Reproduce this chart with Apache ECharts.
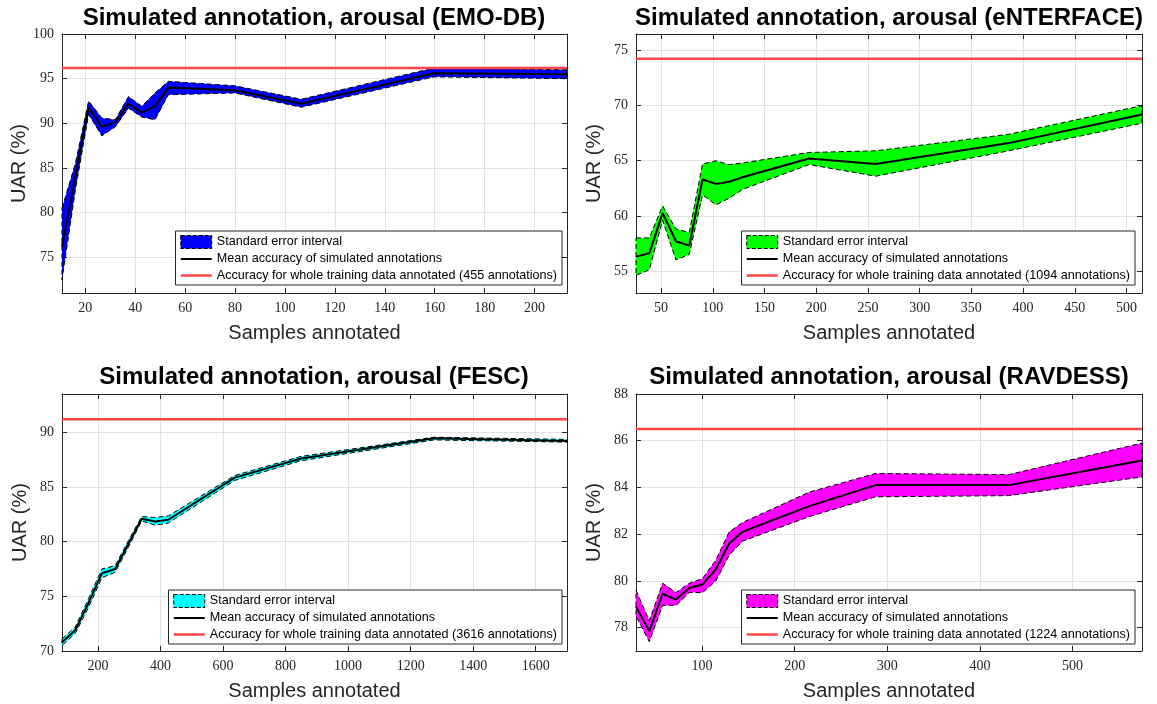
<!DOCTYPE html>
<html>
<head>
<meta charset="utf-8">
<script src="https://cdn.jsdelivr.net/npm/echarts@6/dist/echarts.min.js"></script>
<style>
html, body { margin: 0; background: #fff; }
#main { width: 1157px; height: 704px; }
</style>
</head>
<body>
<div id="main"></div>
<script>
// samples annotated (x) and UAR values
var emoX     = [10.65, 16, 21.3, 26.6, 32, 37.3, 42.6, 47.9, 53.3, 79.9, 106.5, 159.75, 213];
var emoMean  = [76.2, 84.0, 91.8, 89.6, 90.1, 92.2, 91.2, 91.9, 94.0, 93.7, 92.2, 95.6, 95.5];
var emoUpper = [80.5, 85.5, 92.5, 90.6, 90.4, 93.0, 91.9, 93.4, 94.7, 94.2, 92.7, 96.2, 96.0];
var emoLower = [72.5, 82.5, 91.0, 88.6, 89.6, 91.7, 90.7, 90.4, 93.2, 93.4, 91.8, 95.2, 95.0];
var emoRef = 96.2;

var entX     = [25.75, 38.6, 51.5, 64.4, 77.25, 90.1, 103, 115.9, 128.75, 193.1, 257.5, 386.25, 515];
var entMean  = [56.3, 56.6, 60.25, 57.7, 57.3, 63.3, 62.9, 63.1, 63.5, 65.2, 64.7, 66.6, 69.2];
var entUpper = [58.0, 58.0, 60.9, 58.8, 58.5, 64.7, 65.0, 64.65, 64.8, 65.75, 65.9, 67.4, 70.0];
var entLower = [54.6, 55.1, 59.6, 56.0, 56.5, 61.9, 61.0, 61.6, 62.4, 64.65, 63.6, 65.9, 68.4];
var entRef = 74.25;

var fescX     = [85, 127.5, 170, 212.5, 255, 297.5, 340, 382.5, 425, 637.5, 850, 1275, 1700];
var fescMean  = [70.8, 71.9, 74.4, 77.1, 77.5, 79.8, 82.1, 81.85, 82.0, 85.85, 87.6, 89.45, 89.2];
var fescUpper = [71.1, 72.2, 74.8, 77.5, 77.8, 80.1, 82.3, 82.2, 82.35, 86.05, 87.8, 89.55, 89.35];
var fescLower = [70.5, 71.6, 74.0, 76.7, 77.2, 79.5, 81.9, 81.5, 81.7, 85.6, 87.4, 89.3, 89.1];
var fescRef = 91.2;

var ravX     = [28.75, 43.1, 57.5, 71.9, 86.25, 100.6, 115, 129.4, 143.75, 215.6, 287.5, 431.25, 575];
var ravMean  = [78.9, 77.85, 79.45, 79.2, 79.7, 79.85, 80.5, 81.6, 82.1, 83.2, 84.1, 84.1, 85.15];
var ravUpper = [79.6, 78.3, 79.9, 79.5, 79.9, 80.1, 80.9, 82.1, 82.5, 83.8, 84.6, 84.55, 85.9];
var ravLower = [78.5, 77.4, 78.95, 78.95, 79.5, 79.5, 80.0, 81.1, 81.7, 82.75, 83.6, 83.65, 84.45];
var ravRef = 86.5;

// axis ranges [min, max, tick step]
var emoXRange = [10.65, 213, 20],   emoYRange = [71, 100, 5];
var entXRange = [25.75, 515, 50],   entYRange = [53, 76.5, 5];
var fescXRange = [85, 1700, 200],   fescYRange = [70, 93.5, 5];
var ravXRange = [28.75, 575, 100],  ravYRange = [77, 88, 2];

var corpora = ['EMO-DB', 'eNTERFACE', 'FESC', 'RAVDESS'];
var totalAnnotations = [455, 1094, 3616, 1224];

var panels = [
  { x: emoX, mean: emoMean, upper: emoUpper, lower: emoLower, ref: emoRef, xr: emoXRange, yr: emoYRange,
    color: '#0000ff', grid: { left: 62, top: 34, width: 505, height: 259 }, legend: { right: 595, top: 231 }, titleX: 314, titleY: 6 },
  { x: entX, mean: entMean, upper: entUpper, lower: entLower, ref: entRef, xr: entXRange, yr: entYRange,
    color: '#00ff00', grid: { left: 636, top: 34, width: 506, height: 259 }, legend: { right: 22, top: 231 }, titleX: 889, titleY: 6 },
  { x: fescX, mean: fescMean, upper: fescUpper, lower: fescLower, ref: fescRef, xr: fescXRange, yr: fescYRange,
    color: '#00ffff', grid: { left: 62, top: 394, width: 505, height: 257 }, legend: { right: 595, top: 590 }, titleX: 314, titleY: 365 },
  { x: ravX, mean: ravMean, upper: ravUpper, lower: ravLower, ref: ravRef, xr: ravXRange, yr: ravYRange,
    color: '#ff00ff', grid: { left: 636, top: 394, width: 506, height: 257 }, legend: { right: 22, top: 590 }, titleX: 889, titleY: 365 }
];

var axisColor = '#262626';

function tickFmt(step) {
  return function (v) {
    var k = v / step;
    return Math.abs(k - Math.round(k)) < 1e-6 ? String(Math.round(v)) : '';
  };
}

function makeAxis(r, gi, pos, main) {
  return {
    type: 'value',
    gridIndex: gi,
    position: pos,
    min: r[0],
    max: r[1],
    minInterval: r[2],
    maxInterval: r[2],
    splitNumber: Math.round((r[1] - r[0]) / r[2]),
    axisLine: { show: true, onZero: false, lineStyle: { color: axisColor, width: 1 } },
    axisTick: { show: true, inside: true, length: 5, lineStyle: { color: axisColor } },
    axisLabel: {
      show: main,
      fontFamily: 'Liberation Serif',
      fontSize: 14,
      color: axisColor,
      margin: 8,
      formatter: tickFmt(r[2])
    },
    splitLine: { show: main, lineStyle: { color: '#e2e2e2', width: 1 } }
  };
}

// band polygon: upper edge forward, lower edge backward
function bandRender(params, api) {
  if (params.dataIndexInside !== 0) return;
  var n = params.dataInsideLength;
  var pts = [];
  for (var i = 0; i < n; i++) pts.push(api.coord([api.value(0, i), api.value(2, i)]));
  for (var j = n - 1; j >= 0; j--) pts.push(api.coord([api.value(0, j), api.value(1, j)]));
  return {
    type: 'polygon',
    shape: { points: pts },
    style: { fill: api.visual('color'), stroke: '#000', lineWidth: 1, lineDash: [5, 3] }
  };
}

var grids = [], xAxes = [], yAxes = [], series = [], legends = [], titles = [];
var noSymbol = { color: 'rgba(0,0,0,0)', borderWidth: 0, opacity: 0 };

panels.forEach(function (p, i) {
  grids.push(p.grid);

  var xa = makeAxis(p.xr, i, 'bottom', true);
  xa.name = 'Samples annotated';
  xa.nameLocation = 'middle';
  xa.nameGap = 30;
  xa.nameTextStyle = { fontFamily: 'Liberation Sans', fontSize: 20, color: axisColor };
  xAxes.push(xa);
  xAxes.push(makeAxis(p.xr, i, 'top', false));

  var ya = makeAxis(p.yr, i, 'left', true);
  ya.name = 'UAR (%)';
  ya.nameLocation = 'middle';
  ya.nameGap = 32;
  ya.nameTextStyle = { fontFamily: 'Liberation Sans', fontSize: 20, color: axisColor };
  yAxes.push(ya);
  yAxes.push(makeAxis(p.yr, i, 'right', false));

  var bandName = 'Standard error interval|' + i;
  var meanName = 'Mean accuracy of simulated annotations|' + i;
  var refName = 'Accuracy for whole training data annotated (' + totalAnnotations[i] + ' annotations)|' + i;

  series.push({
    name: bandName,
    type: 'custom',
    xAxisIndex: 2 * i,
    yAxisIndex: 2 * i,
    renderItem: bandRender,
    itemStyle: { color: p.color },
    encode: { x: 0, y: [1, 2] },
    data: p.x.map(function (v, k) { return [v, p.lower[k], p.upper[k]]; }),
    z: 2,
    silent: true
  });
  series.push({
    name: meanName,
    type: 'line',
    xAxisIndex: 2 * i,
    yAxisIndex: 2 * i,
    symbol: 'none',
    lineStyle: { color: '#000', width: 2 },
    itemStyle: { color: '#000' },
    data: p.x.map(function (v, k) { return [v, p.mean[k]]; }),
    z: 3,
    silent: true
  });
  series.push({
    name: refName,
    type: 'line',
    xAxisIndex: 2 * i,
    yAxisIndex: 2 * i,
    symbol: 'none',
    lineStyle: { color: '#ff4545', width: 2.5 },
    itemStyle: { color: '#ff4545' },
    data: [[p.xr[0], p.ref], [p.xr[1], p.ref]],
    z: 4,
    silent: true
  });

  legends.push({
    right: p.legend.right,
    top: p.legend.top,
    orient: 'vertical',
    backgroundColor: '#fff',
    borderColor: axisColor,
    borderWidth: 1,
    padding: [4, 5, 3, 4],
    itemGap: 3.5,
    itemWidth: 31,
    itemHeight: 13,
    selectedMode: false,
    textStyle: { fontFamily: 'Liberation Sans', fontSize: 12.6, color: '#000' },
    formatter: function (name) { return name.split('|')[0]; },
    data: [
      { name: bandName, icon: 'rect', itemStyle: { color: p.color, borderColor: '#000', borderWidth: 1, borderType: 'dashed' } },
      { name: meanName, itemStyle: noSymbol, lineStyle: { color: '#000', width: 2 } },
      { name: refName, itemStyle: noSymbol, lineStyle: { color: '#ff4545', width: 2.5 } }
    ]
  });

  titles.push({
    text: 'Simulated annotation, arousal (' + corpora[i] + ')',
    left: p.titleX,
    top: p.titleY,
    textAlign: 'center',
    padding: 0,
    textStyle: { fontFamily: 'Liberation Sans', fontWeight: 'bold', fontSize: 24, color: '#000' }
  });
});

var myChart = echarts.init(document.getElementById('main'));
myChart.setOption({
  animation: false,
  backgroundColor: '#fff',
  title: titles,
  legend: legends,
  grid: grids,
  xAxis: xAxes,
  yAxis: yAxes,
  series: series
});
</script>
</body>
</html>
